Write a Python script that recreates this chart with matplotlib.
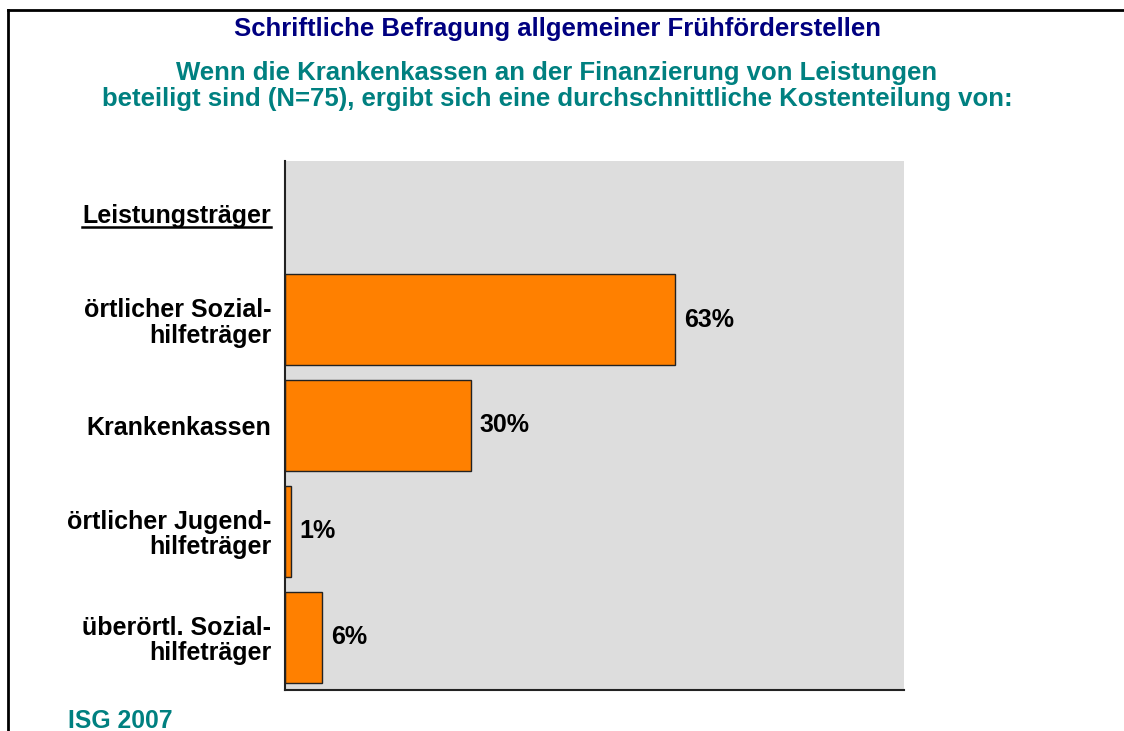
import matplotlib.pyplot as plt
from matplotlib.lines import Line2D

plt.rcParams['font.family'] = ['Liberation Sans', 'DejaVu Sans']

header = 'Leistungsträger'
categories = ['örtlicher Sozial-\nhilfeträger', 'Krankenkassen',
              'örtlicher Jugend-\nhilfeträger', 'überörtl. Sozial-\nhilfeträger']
values = [63, 30, 1, 6]
value_labels = ['63%', '30%', '1%', '6%']

title = 'Schriftliche Befragung allgemeiner Frühförderstellen'
subtitle = ('Wenn die Krankenkassen an der Finanzierung von Leistungen\n'
            'beteiligt sind (N=75), ergibt sich eine durchschnittliche Kostenteilung von:')
source = 'ISG 2007'

W, H = 1124, 731
fig = plt.figure(figsize=(W / 100, H / 100), dpi=100)
ax = fig.add_axes([285 / W, 1 - 690 / H, 619 / W, 529 / H])
ax.set_facecolor('#dddddd')

ypos = list(range(1, len(categories) + 1))
ax.barh(ypos, values, height=0.86, color='#ff8000', edgecolor='#222222', linewidth=1)
for y, v, lab in zip(ypos, values, value_labels):
    ax.text(v + 1.4, y, lab, va='center', ha='left', fontsize=18, fontweight='bold')

ax.set_xlim(0, 100)
ax.set_ylim(len(categories) + 0.5, -0.5)
ax.set_yticks([0] + ypos)
ax.set_yticklabels([header] + categories, fontsize=18, fontweight='bold', ha='right',
                   multialignment='right')
for t in ax.get_yticklabels():
    t.set_linespacing(1.08)
ax.tick_params(axis='y', length=0, pad=10)
ax.set_xticks([])
for s in ['top', 'right']:
    ax.spines[s].set_visible(False)
ax.spines['left'].set_color('#222222')
ax.spines['bottom'].set_color('#222222')
ax.spines['left'].set_linewidth(1.5)
ax.spines['bottom'].set_linewidth(1.5)

fig.text(557 / W, 1 - 29 / H, title, ha='center', va='center', fontsize=18.5,
         fontweight='bold', color='#000080')
fig.text(557 / W, 1 - 86 / H, subtitle, ha='center', va='center', fontsize=18.5,
         fontweight='bold', color='#008080', linespacing=1.12)
fig.text(68 / W, 1 - 721 / H, source, ha='left', va='center', fontsize=17.8,
         fontweight='bold', color='#008080')

# frame lines
fig.add_artist(Line2D([8 / W, 1], [1 - 10 / H, 1 - 10 / H], color='black', lw=2))
fig.add_artist(Line2D([8 / W, 8 / W], [1 - 10 / H, 0], color='black', lw=2))

# underline header label
fig.canvas.draw()
lbl = ax.get_yticklabels()[0]
bb = lbl.get_window_extent(fig.canvas.get_renderer())
fig.add_artist(Line2D([bb.x0 / W, bb.x1 / W], [(bb.y0 + 1) / H, (bb.y0 + 1) / H],
                      color='black', lw=1.8))

fig.savefig('out.png', dpi=100)
